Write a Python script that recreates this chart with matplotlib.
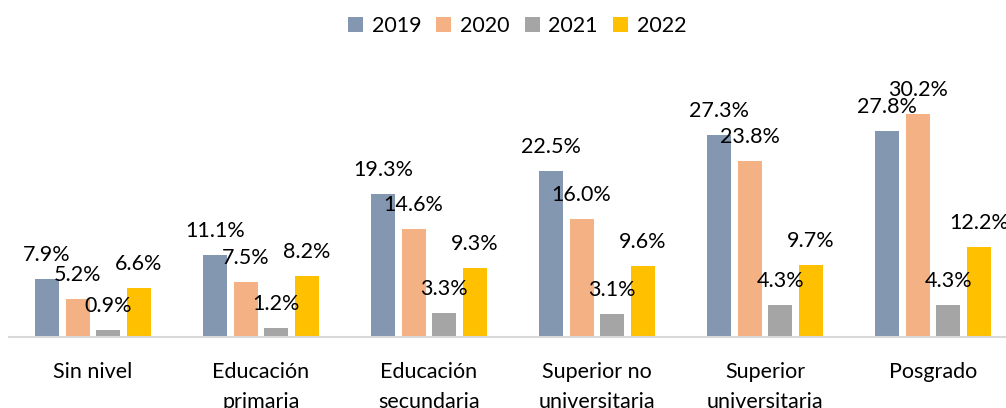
import matplotlib.pyplot as plt
import numpy as np

plt.rcParams['font.family'] = ['Lato', 'DejaVu Sans']

categories = ['Sin nivel', 'Educación\nprimaria', 'Educación\nsecundaria',
              'Superior no\nuniversitaria', 'Superior\nuniversitaria', 'Posgrado']
years = ['2019', '2020', '2021', '2022']
v2019 = [7.9, 11.1, 19.3, 22.5, 27.3, 27.8]
v2020 = [5.2, 7.5, 14.6, 16.0, 23.8, 30.2]
v2021 = [0.9, 1.2, 3.3, 3.1, 4.3, 4.3]
v2022 = [6.6, 8.2, 9.3, 9.6, 9.7, 12.2]
colors = ['#8497B0', '#F4B183', '#A5A5A5', '#FFC000']

W, H = 1006, 408
fig = plt.figure(figsize=(W / 100, H / 100), dpi=100)
# axes spans beyond the right edge, like the cropped original
ax = fig.add_axes([9 / W, (H - 337) / H, 1008 / W, 287 / H])

x = np.arange(len(categories))
step = 0.1825
width = 0.143
series = [v2019, v2020, v2021, v2022]
for i, (vals, yr, c) in enumerate(zip(series, years, colors)):
    pos = x + (i - 1.5) * step
    bars = ax.bar(pos, vals, width, color=c, label=yr, zorder=2)
    for b, v in zip(bars, vals):
        ax.annotate(f'{v:.1f}%', (b.get_x() + b.get_width() / 2, v),
                    xytext=(0, 24), textcoords='offset pixels',
                    ha='center', va='center', fontsize=15.5, color='#000000')

ax.set_xlim(-0.5, len(categories) - 0.5)
ax.set_ylim(0, 38.8)
ax.set_yticks([])
ax.set_xticks(x)
ax.set_xticklabels(categories, fontsize=15.5, linespacing=1.6)
ax.tick_params(axis='x', length=0, pad=18)
for s in ['top', 'right', 'left']:
    ax.spines[s].set_visible(False)
ax.spines['bottom'].set_color('#D9D9D9')
ax.spines['bottom'].set_linewidth(1.5)

fig.legend(loc='center', bbox_to_anchor=(517 / W, (H - 26) / H), ncol=4,
           frameon=False, fontsize=15.5, handlelength=0.7, handleheight=0.7,
           handletextpad=0.4, columnspacing=0.7)

fig.savefig('out.png', dpi=100)
